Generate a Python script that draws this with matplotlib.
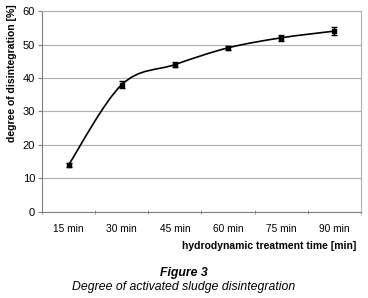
import matplotlib
matplotlib.use("Agg")
import matplotlib.pyplot as plt
import numpy as np
from matplotlib.path import Path
from matplotlib.patches import PathPatch

plt.rcParams['font.family'] = ['Liberation Sans', 'DejaVu Sans']

categories = ["15 min", "30 min", "45 min", "60 min", "75 min", "90 min"]
values = [14, 38, 44, 49, 52, 54]
errors = [0.7, 1.0, 0.8, 0.7, 0.9, 1.2]

fig = plt.figure(figsize=(3.68, 2.98), dpi=100)
ax = fig.add_axes([0.114, 0.289, 0.867, 0.674])

x = np.arange(len(values), dtype=float)
y = np.array(values, dtype=float)

# smoothed line (Bezier through the data points, Excel-style)
verts = [(x[0], y[0])]
codes = [Path.MOVETO]
n = len(x)
for i in range(n - 1):
    p0 = np.array([x[max(i - 1, 0)], y[max(i - 1, 0)]])
    p1 = np.array([x[i], y[i]])
    p2 = np.array([x[i + 1], y[i + 1]])
    p3 = np.array([x[min(i + 2, n - 1)], y[min(i + 2, n - 1)]])
    c1 = p1 + (p2 - p0) / 6.0
    c2 = p2 - (p3 - p1) / 6.0
    verts += [tuple(c1), tuple(c2), tuple(p2)]
    codes += [Path.CURVE4] * 3
ax.add_patch(PathPatch(Path(verts, codes), facecolor='none', edgecolor='black', lw=1.2, zorder=3))

ax.errorbar(x, y, yerr=errors, fmt='s', color='black', ms=3.5, capsize=2.5,
            elinewidth=1.0, capthick=1.0, zorder=4)

ax.set_xlim(-0.5, n - 0.5)
ax.set_ylim(0, 60)
ax.set_yticks(range(0, 61, 10))
ax.set_xticks(x)
ax.set_xticklabels(categories, fontsize=7.3)
ax.set_xticks(np.arange(-0.5, n, 1.0), minor=True)
ax.tick_params(axis='x', which='major', length=0, pad=9)
ax.tick_params(axis='x', which='minor', length=3.5, direction='inout', color='#808080')
ax.tick_params(axis='y', labelsize=8, length=3, color='#808080', pad=2)

ax.grid(axis='y', color='#b0b0b0', lw=0.8)
ax.set_axisbelow(True)
for s in ['top', 'right']:
    ax.spines[s].set_color('#b0b0b0')
    ax.spines[s].set_linewidth(0.8)
ax.spines['left'].set_color('#808080')
ax.spines['bottom'].set_color('#808080')

fig.text(12 / 368, 1 - 4 / 298, "degree of disintegration [%]", rotation=90,
         ha='center', va='top', fontsize=7.5, fontweight='bold')
fig.text(356 / 368, 0.175, "hydrodynamic treatment time [min]", ha='right', va='center',
         fontsize=7.5, fontweight='bold')
fig.text(0.5, 0.083, "Figure 3", ha='center', va='center', fontsize=8.8,
         fontweight='bold', style='italic')
fig.text(0.5, 0.037, "Degree of activated sludge disintegration", ha='center', va='center',
         fontsize=8.8, style='italic')

fig.savefig("out.png", dpi=100)
